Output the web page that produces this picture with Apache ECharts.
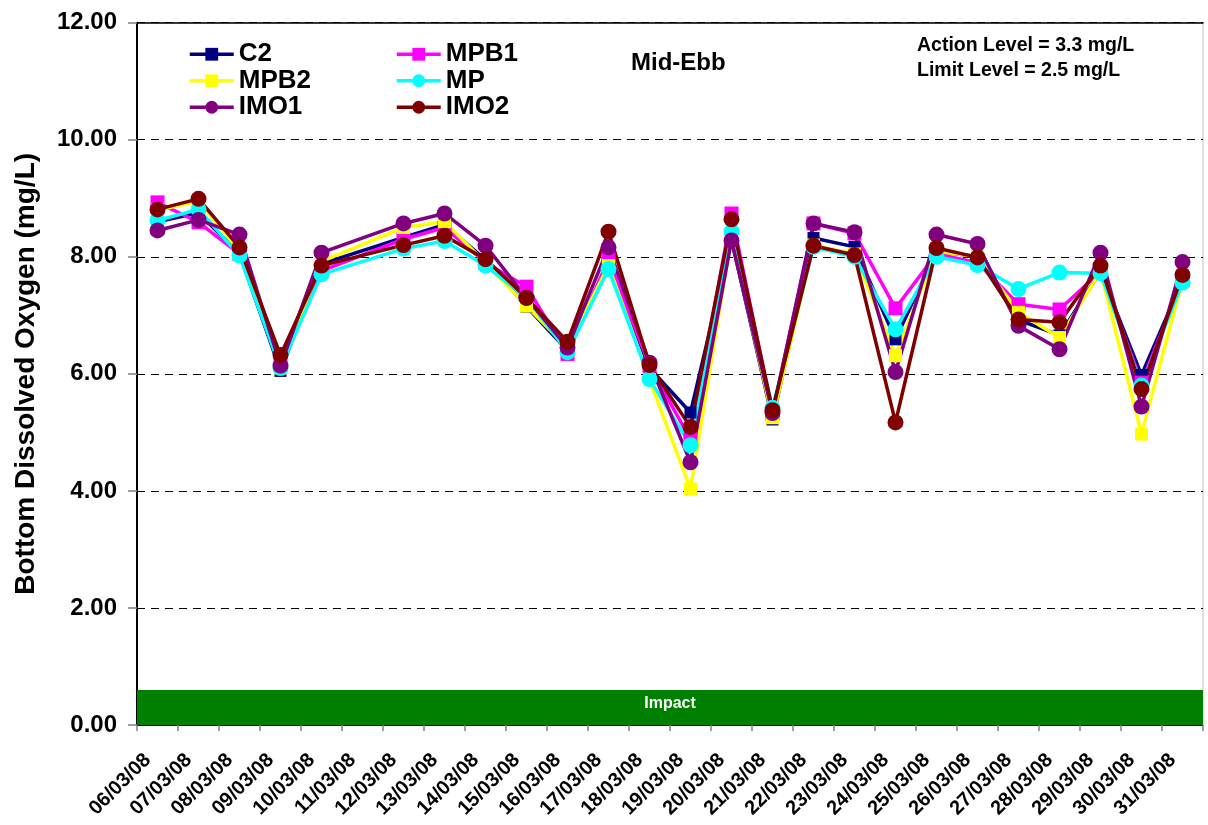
<!DOCTYPE html>
<html>
<head>
<meta charset="utf-8">
<script src="https://cdn.jsdelivr.net/npm/echarts@6/dist/echarts.min.js"></script>
<style>
html,body{margin:0;padding:0;background:#fff;}
#chart{width:1208px;height:825px;}
</style>
</head>
<body>
<div id="chart"></div>
<script>
const dates = ['06/03/08','07/03/08','08/03/08','09/03/08','10/03/08','11/03/08','12/03/08','13/03/08','14/03/08','15/03/08','16/03/08','17/03/08','18/03/08','19/03/08','20/03/08','21/03/08','22/03/08','23/03/08','24/03/08','25/03/08','26/03/08','27/03/08','28/03/08','29/03/08','30/03/08','31/03/08'];
const yTicks = [0, 2, 4, 6, 8, 10, 12];

const C2   = [8.60, 8.75, 8.05, 6.05, 7.88, null, 8.33, 8.55, 7.95, 7.15, 6.40, 7.90, 6.10, 5.34, 8.30, 5.22, 8.32, 8.17, 6.59, 8.10, 8.00, 6.92, 6.66, 7.75, 5.98, 7.60];
const MPB1 = [8.93, 8.59, 8.05, 6.15, 7.76, null, 8.30, 8.50, 7.90, 7.49, 6.34, 7.96, 6.14, 4.88, 8.74, 5.32, 8.57, 8.40, 7.12, 8.05, 7.90, 7.19, 7.10, 7.75, 5.85, 7.60];
const MPB2 = [8.80, 8.95, 8.10, 6.10, 7.92, null, 8.50, 8.60, 7.90, 7.16, 6.45, 7.85, 5.90, 4.03, 8.35, 5.25, 8.20, 8.05, 6.31, 8.10, 8.00, 7.05, 6.62, 7.75, 4.97, 7.60];
const MP   = [8.62, 8.81, 8.02, 6.10, 7.70, null, 8.14, 8.27, 7.85, 7.30, 6.37, 7.79, 5.91, 4.78, 8.43, 5.42, 8.17, 8.00, 6.76, 8.00, 7.86, 7.45, 7.73, 7.72, 5.80, 7.56];
const IMO1 = [8.45, 8.63, 8.38, 6.14, 8.07, null, 8.57, 8.74, 8.19, 7.30, 6.45, 8.16, 6.19, 4.49, 8.28, 5.33, 8.57, 8.42, 6.03, 8.38, 8.22, 6.82, 6.42, 8.07, 5.44, 7.91];
const IMO2 = [8.81, 8.99, 8.16, 6.32, 7.85, null, 8.20, 8.36, 7.96, 7.30, 6.55, 8.43, 6.15, 5.09, 8.64, 5.38, 8.19, 8.03, 5.17, 8.15, 7.99, 6.93, 6.88, 7.85, 5.74, 7.69];
const impactBand = [0, 0.6];

const FONT = "'Liberation Sans', Arial, sans-serif";

function mkSeries(name, data, color, symbol, size, extra) {
  return Object.assign({
    name: name,
    type: 'line',
    data: data,
    connectNulls: true,
    symbol: symbol,
    symbolSize: size,
    showAllSymbol: true,
    lineStyle: { color: color, width: 3.5 },
    itemStyle: { color: color, borderWidth: 0 },
    emphasis: { disabled: true },
    animation: false
  }, extra || {});
}

const chart = echarts.init(document.getElementById('chart'), null, { renderer: 'canvas' });

const legendCommon = {
  orient: 'vertical', top: 36, itemGap: 0, itemWidth: 44, itemHeight: 16,
  lineStyle: { width: 3.5 },
  textStyle: { fontFamily: FONT, fontWeight: 'bold', fontSize: 26, color: '#000', lineHeight: 26.5 }
};

const option = {
  backgroundColor: '#ffffff',
  animation: false,
  grid: { left: 137, right: 5, top: 22.7, bottom: 100, show: true, borderColor: '#c0c0c0', borderWidth: 1, backgroundColor: 'transparent' },
  legend: [
    Object.assign({ left: 183, data: ['C2', 'MPB2', 'IMO1'] }, legendCommon),
    Object.assign({ left: 390, data: ['MPB1', 'MP', 'IMO2'] }, legendCommon)
  ],
  graphic: [
    { type: 'text', left: 631, top: 51, style: { text: 'Mid-Ebb', font: "bold 24px " + FONT, fill: '#000' } },
    { type: 'text', left: 917, top: 36, style: { text: 'Action Level = 3.3 mg/L', font: "bold 19.5px " + FONT, fill: '#000' } },
    { type: 'text', left: 917, top: 61, style: { text: 'Limit Level = 2.5 mg/L', font: "bold 19.5px " + FONT, fill: '#000' } }
  ],
  xAxis: [
    {
      type: 'category',
      data: dates,
      boundaryGap: true,
      axisLine: { show: true, lineStyle: { color: '#000', width: 1 } },
      axisTick: { show: true, length: 6, interval: 0, lineStyle: { color: '#808080', width: 1.5 } },
      axisLabel: {
        interval: 0, rotate: 45, margin: 22, padding: [0, 14, 0, 0],
        fontFamily: FONT, fontWeight: 'bold', fontSize: 20, color: '#000'
      },
      splitLine: { show: false }
    },
    {
      type: 'category',
      data: dates,
      position: 'top',
      axisLine: { show: true, lineStyle: { color: '#000', width: 1.5 } },
      axisTick: { show: false },
      axisLabel: { show: false },
      splitLine: { show: false }
    }
  ],
  yAxis: {
    type: 'value',
    min: yTicks[0],
    max: yTicks[yTicks.length - 1],
    interval: 2,
    name: 'Bottom Dissolved Oxygen (mg/L)',
    nameLocation: 'middle',
    nameGap: 97,
    nameTextStyle: { fontFamily: FONT, fontWeight: 'bold', fontSize: 28, color: '#000' },
    axisLine: { show: true, lineStyle: { color: '#000', width: 2 } },
    axisTick: { show: true, length: 9, lineStyle: { color: '#808080', width: 1.5 } },
    axisLabel: {
      margin: 20,
      fontFamily: FONT, fontWeight: 'bold', fontSize: 24, color: '#000',
      formatter: function (v) { return v.toFixed(2); }
    },
    splitLine: { show: true, lineStyle: { color: '#000', width: 1, type: [8, 6] } }
  },
  series: [
    mkSeries('C2', C2, '#000080', 'rect', 12, {
      markArea: {
        silent: true,
        itemStyle: { color: '#008000', opacity: 1 },
        label: { show: true, position: 'inside', color: '#fff', fontFamily: FONT, fontWeight: 'bold', fontSize: 16, offset: [0, -4] },
        data: [[{ name: 'Impact', yAxis: impactBand[0] }, { yAxis: impactBand[1] }]]
      }
    }),
    mkSeries('MPB1', MPB1, '#FF00FF', 'rect', 14),
    mkSeries('MPB2', MPB2, '#FFFF00', 'rect', 13),
    mkSeries('MP', MP, '#00FFFF', 'circle', 16),
    mkSeries('IMO1', IMO1, '#800080', 'circle', 16),
    mkSeries('IMO2', IMO2, '#800000', 'circle', 16)
  ]
};

chart.setOption(option);
</script>
</body>
</html>
